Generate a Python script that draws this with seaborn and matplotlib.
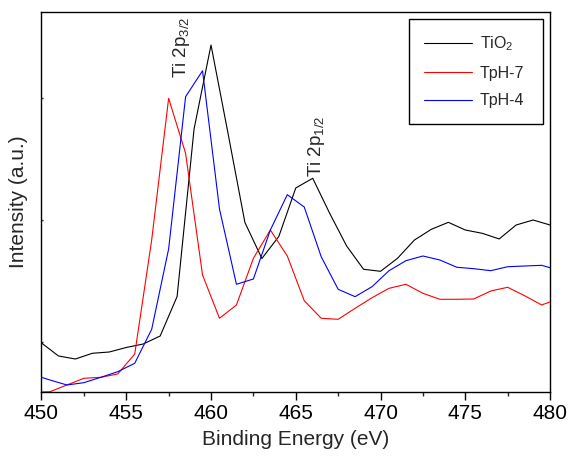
import numpy as np
import pandas as pd
import matplotlib
matplotlib.use("Agg")
import matplotlib.pyplot as plt
import seaborn as sns

# ---- data (arbitrary intensity units) ----
tio2_be = list(range(450, 481))
tio2_int = [1979, 1766, 1716, 1810, 1831, 1905, 1962, 2093, 2741, 5487,
            6864, 5421, 3954, 3364, 3725, 4520, 4679, 4105, 3569, 3187,
            3154, 3367, 3667, 3843, 3957, 3831, 3777, 3684, 3913, 3995, 3913]

tph_be = [449.5 + i for i in range(32)]
tph7_int = [1170, 1180, 1290, 1400, 1416, 1471, 1798, 3667, 5990, 5088,
            3093, 2384, 2602, 3367, 3831, 3405, 2672, 2384, 2367, 2547,
            2721, 2875, 2941, 2793, 2695, 2695, 2700, 2831, 2892, 2754, 2602, 2700]
tph4_int = [1460, 1372, 1290, 1328, 1416, 1508, 1646, 2203, 3520, 6016,
            6442, 4175, 2941, 3028, 3831, 4410, 4208, 3393, 2859, 2738,
            2902, 3164, 3328, 3405, 3339, 3220, 3197, 3164, 3229, 3241, 3252, 3175]

series_names = ["TiO$_2$", "TpH-7", "TpH-4"]
series_colors = ["black", "red", "blue"]
x_ticks = [450, 455, 460, 465, 470, 475, 480]
y_ticks = [2000, 4000, 6000]

df = pd.concat([
    pd.DataFrame({"BE": tio2_be, "I": tio2_int, "s": series_names[0]}),
    pd.DataFrame({"BE": tph_be, "I": tph7_int, "s": series_names[1]}),
    pd.DataFrame({"BE": tph_be, "I": tph4_int, "s": series_names[2]}),
], ignore_index=True)

sns.set_style("ticks")
plt.rcParams["font.family"] = ["Liberation Sans", "DejaVu Sans"]
plt.rcParams["mathtext.fontset"] = "custom"
plt.rcParams["mathtext.rm"] = "Liberation Sans"
plt.rcParams["mathtext.it"] = "Liberation Sans:italic"
plt.rcParams["mathtext.default"] = "regular"

fig = plt.figure(figsize=(5.7, 4.62), dpi=100)
ax = fig.add_axes([0.0728, 0.1515, 0.8922, 0.8225])

sns.lineplot(data=df, x="BE", y="I", hue="s", palette=dict(zip(series_names, series_colors)),
             hue_order=series_names, estimator=None, sort=False, linewidth=0.8, ax=ax)

ax.set_xlim(450, 480)
ax.set_ylim(1175, 7405)
ax.set_xticks(x_ticks)
ax.set_xticks([452.5 + 5 * i for i in range(6)], minor=True)
ax.set_yticks(y_ticks)
ax.set_yticklabels([])
ax.tick_params(axis="x", which="major", direction="out", length=5.4, width=1, labelsize=15, pad=3, colors="black")
ax.tick_params(axis="x", which="minor", direction="out", length=3, width=1)
ax.tick_params(axis="y", which="major", direction="in", length=1.5, width=1)
for sp in ax.spines.values():
    sp.set_visible(True)
    sp.set_linewidth(1.0)
    sp.set_color("black")

ax.set_xlabel("Binding Energy (eV)", fontsize=15, labelpad=5)
ax.set_ylabel("Intensity (a.u.)", fontsize=15, labelpad=6)

ax.text(458.26, 6322, "Ti 2p$_{3/2}$", rotation=90, ha="center", va="bottom", fontsize=13.5)
ax.text(466.22, 4704, "Ti 2p$_{1/2}$", rotation=90, ha="center", va="bottom", fontsize=13.5)

leg = ax.legend(loc="upper left", bbox_to_anchor=(0.7227, 0.705, 0.2633, 0.2766), mode="expand",
                borderaxespad=0, fontsize=11.5, frameon=True, fancybox=False, edgecolor="black",
                handlelength=3.0, handletextpad=0.5, labelspacing=0.8, borderpad=0.95)
leg.get_frame().set_linewidth(1.0)
leg.get_frame().set_alpha(1)

fig.savefig("out.png", dpi=100)
